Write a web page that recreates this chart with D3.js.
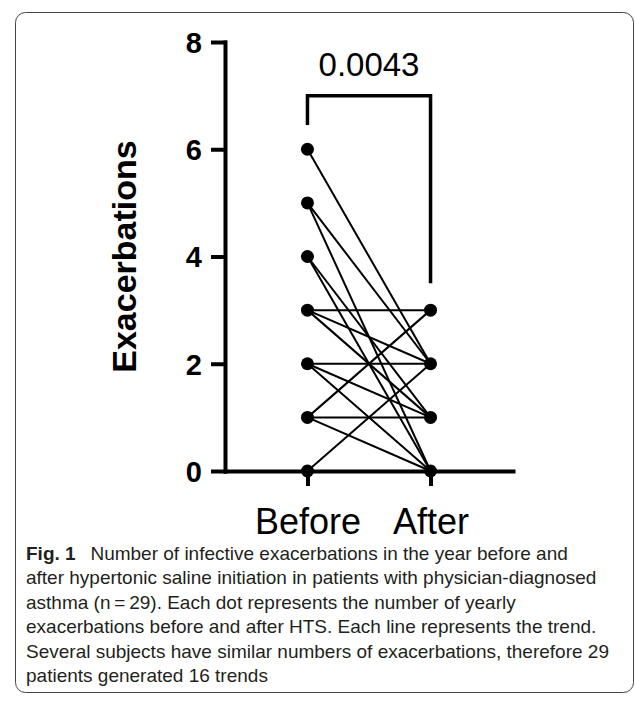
<!DOCTYPE html>
<html>
<head>
<meta charset="utf-8">
<script src="https://cdn.jsdelivr.net/npm/d3@7"></script>
<style>
	body { margin: 0; background: #fff; }
	svg { display: block; }
	.axis text { font-family: "Liberation Sans", Arial, sans-serif; fill: #000; }
	.caption { font-family: "Liberation Sans", Arial, sans-serif; font-size: 19px; fill: #231f20; }
</style>
</head>
<body>
<div id="graphic"></div>
<script>
// chart data
const groups = ['Before', 'After'];
const beforeValues = [6, 5, 5, 4, 4, 3, 3, 3, 2, 2, 2, 1, 1, 1, 0, 0];
const afterValues = [2, 2, 0, 0, 1, 3, 2, 1, 2, 1, 0, 3, 1, 0, 2, 0];
const yTickValues = [0, 2, 4, 6, 8];
const yAxisLabel = 'Exacerbations';
const pValueText = '0.0043';
// bracket top and the bottom of each leg, in data units
const bracketTop = 7;
const bracketLegEnds = [6.45, 3.5];

const captionBold = 'Fig. 1';
const captionLines = [
	'Number of infective exacerbations in the year before and',
	'after hypertonic saline initiation in patients with physician-diagnosed',
	'asthma (n\u2009=\u200929). Each dot represents the number of yearly',
	'exacerbations before and after HTS. Each line represents the trend.',
	'Several subjects have similar numbers of exacerbations, therefore 29',
	'patients generated 16 trends'
];

const width = 635;
const height = 704;

const svg = d3.select('#graphic')
	.append('svg')
	.attr('width', width)
	.attr('height', height);

// card outline
svg.append('rect')
	.attr('x', 15.5)
	.attr('y', 12.5)
	.attr('width', 618)
	.attr('height', 680)
	.attr('rx', 10)
	.attr('fill', 'none')
	.attr('stroke', '#444')
	.attr('stroke-width', 1);

const x = d3.scalePoint()
	.domain(groups)
	.range([225, 513])
	.padding(0.67);

const y = d3.scaleLinear()
	.domain([0, 8])
	.range([471, 42]);

// trend lines
const pairs = beforeValues.map((b, i) => ({ before: b, after: afterValues[i] }));

svg.append('g')
	.selectAll('line')
	.data(pairs)
	.join('line')
	.attr('x1', x('Before'))
	.attr('y1', d => y(d.before))
	.attr('x2', x('After'))
	.attr('y2', d => y(d.after))
	.attr('stroke', '#000')
	.attr('stroke-width', 2);

// axes
const yAxis = svg.append('g')
	.attr('class', 'axis y')
	.attr('transform', 'translate(225,0)')
	.call(d3.axisLeft(y)
		.tickValues(yTickValues)
		.tickSize(12)
		.tickSizeOuter(0)
		.tickPadding(11)
		.tickFormat(d3.format('d')));

yAxis.selectAll('text')
	.style('font-size', '29px')
	.style('font-weight', 'bold')
	.attr('dy', '0.36em');

const xAxis = svg.append('g')
	.attr('class', 'axis x')
	.attr('transform', `translate(0,${y(0)})`)
	.call(d3.axisBottom(x)
		.tickSize(13)
		.tickSizeOuter(0)
		.tickPadding(24));

xAxis.selectAll('text')
	.style('font-size', '36px');

svg.selectAll('.axis path, .axis line')
	.attr('stroke', '#000')
	.attr('stroke-width', 4)
	.attr('stroke-linecap', 'square');

// dots, one per distinct value in each group
const dotData = [];
groups.forEach((g, gi) => {
	const vals = gi === 0 ? beforeValues : afterValues;
	Array.from(new Set(vals)).forEach(v => dotData.push({ group: g, value: v }));
});

svg.append('g')
	.selectAll('circle')
	.data(dotData)
	.join('circle')
	.attr('cx', d => x(d.group))
	.attr('cy', d => y(d.value))
	.attr('r', 6.5)
	.attr('fill', '#000');

// significance bracket
const bracket = d3.line()
	.x(d => d[0])
	.y(d => d[1]);

svg.append('path')
	.attr('d', bracket([
		[x('Before'), y(bracketLegEnds[0])],
		[x('Before'), y(bracketTop)],
		[x('After'), y(bracketTop)],
		[x('After'), y(bracketLegEnds[1])]
	]))
	.attr('fill', 'none')
	.attr('stroke', '#000')
	.attr('stroke-width', 3.5);

svg.append('text')
	.attr('x', (x('Before') + x('After')) / 2)
	.attr('y', 76)
	.attr('text-anchor', 'middle')
	.style('font-family', '"Liberation Sans", Arial, sans-serif')
	.style('font-size', '33px')
	.text(pValueText);

// y axis title
svg.append('text')
	.attr('transform', `translate(136,${y(4)}) rotate(-90)`)
	.attr('text-anchor', 'middle')
	.style('font-family', '"Liberation Sans", Arial, sans-serif')
	.style('font-size', '34px')
	.style('font-weight', 'bold')
	.text(yAxisLabel);

// caption
const caption = svg.append('g')
	.attr('class', 'caption');

captionLines.forEach((line, i) => {
	const t = caption.append('text')
		.attr('x', 26)
		.attr('y', 560 + i * 24.4);
	if (i === 0) {
		t.append('tspan').style('font-weight', 'bold').text(captionBold);
		t.append('tspan').text('\u2002 ' + line);
	} else {
		t.text(line);
	}
});
</script>
</body>
</html>
